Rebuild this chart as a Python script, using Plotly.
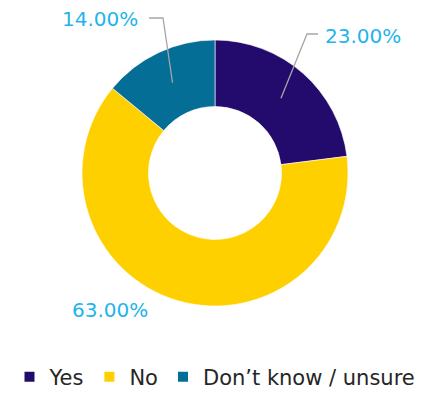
import math
import plotly.graph_objects as go

labels = ["Yes", "No", "Don’t know / unsure"]
values = [23.0, 63.0, 14.0]
colors = ["#230B6E", "#FFD000", "#046E96"]

W, H = 430, 393
cx, cy, R = 215, 173, 133
hole = 0.5

fig = go.Figure(go.Pie(
    labels=labels, values=values, sort=False, direction="clockwise", rotation=0,
    hole=hole, textinfo="none", hoverinfo="label+percent",
    marker=dict(colors=colors, line=dict(color="white", width=0.6)),
    domain=dict(x=[(cx - R) / W, (cx + R) / W], y=[(H - cy - R) / H, (H - cy + R) / H]),
))

def px(x):
    return x / W

def py(y):
    return 1 - y / H

# label placements (pixel offsets relative to center), elbow points
label_cfg = [
    dict(elbow=(92, -139), end=(103, -139), text_x=108, text_y=-137, anchor="left", leader=True),
    dict(elbow=None, end=None, text_x=-105, text_y=137, anchor="center", leader=False),
    dict(elbow=(-52, -155), end=(-66, -155), text_x=-75, text_y=-154, anchor="right", leader=True),
]

total = sum(values)
cum = 0.0
r_mid = R * (1 + hole) / 2
for v, cfg in zip(values, label_cfg):
    mid = (cum + v / 2) / total * 2 * math.pi
    cum += v
    sx = cx + r_mid * math.sin(mid)
    sy = cy - r_mid * math.cos(mid)
    if cfg["leader"]:
        ex, ey = cx + cfg["elbow"][0], cy + cfg["elbow"][1]
        fx, fy = cx + cfg["end"][0], cy + cfg["end"][1]
        fig.add_shape(type="path", xref="paper", yref="paper",
                      path=f"M {px(sx)} {py(sy)} L {px(ex)} {py(ey)} L {px(fx)} {py(fy)}",
                      line=dict(color="#A6A6A6", width=1.3))
    fig.add_annotation(x=px(cx + cfg["text_x"]), y=py(cy + cfg["text_y"]), xref="paper", yref="paper",
                       text=f"{v / total * 100:.2f}%", showarrow=False,
                       xanchor=cfg["anchor"], yanchor="middle",
                       font=dict(family="DejaVu Sans", size=20, color="#1FB4EA"))

fig.update_layout(
    width=W, height=H, margin=dict(l=0, r=0, t=0, b=0, autoexpand=False),
    paper_bgcolor="white", plot_bgcolor="white",
    showlegend=True,
    legend=dict(orientation="h", x=0.5, xanchor="center", y=-0.012, yanchor="bottom",
                font=dict(family="DejaVu Sans", size=21, color="#262626"),
                itemsizing="constant", traceorder="normal"),
)

fig.write_html("out.html", config={"displayModeBar": False},
               post_script="document.body.style.margin='0';")
